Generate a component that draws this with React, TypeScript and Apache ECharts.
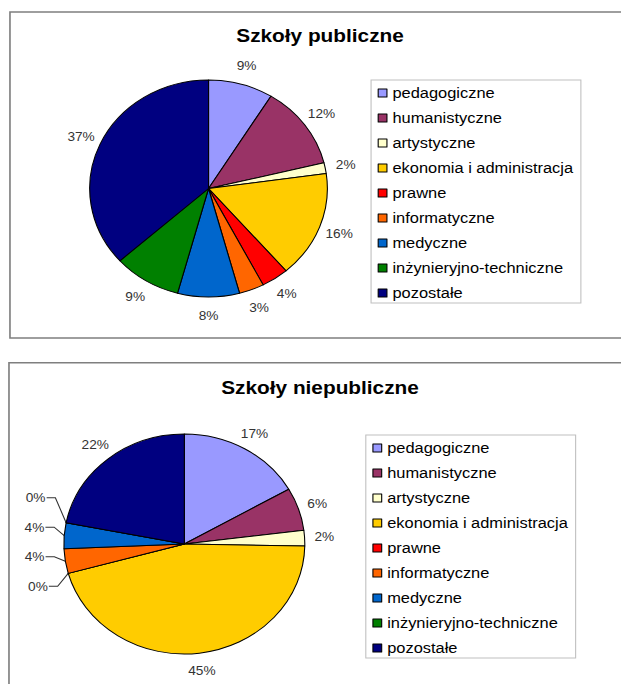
import React, { useEffect, useRef } from "react";
import * as echarts from "echarts";

// ---- data ----
const categories = [
  "pedagogiczne",
  "humanistyczne",
  "artystyczne",
  "ekonomia i administracja",
  "prawne",
  "informatyczne",
  "medyczne",
  "inżynieryjno-techniczne",
  "pozostałe",
];
const sliceColors = [
  "#9999FF",
  "#993366",
  "#FFFFCC",
  "#FFCC00",
  "#FF0000",
  "#FF6600",
  "#0066CC",
  "#008000",
  "#000080",
];
// shares in percent (labels show rounded values)
const publicShares = [8.8, 12.4, 1.6, 15.9, 3.7, 3.4, 8.4, 9.2, 36.6];
const nonPublicShares = [16.7, 6.3, 2.3, 45.4, 0, 3.6, 3.8, 0, 21.9];
const chartTitles = ["Szkoły publiczne", "Szkoły niepubliczne"];
// labels of the second chart that are pulled out with leader lines
const pulledOutLabels = ["prawne", "informatyczne", "medyczne", "inżynieryjno-techniczne"];

// ---- layout ----
const FONT = '"Liberation Sans", Arial, Helvetica, sans-serif';
const OUT_W = 621;
const OUT_H = 684;
const W = 567; // drawing width before the horizontal stretch of the reference
const SX = OUT_W / W;

const pctLabel = (p: any) => Math.round(p.value) + "%";

const sliceItems = (vals: number[]) =>
  categories.map((name, i) => ({ name, value: vals[i], itemStyle: { color: sliceColors[i] } }));

const ringItems = (vals: number[], hidden: string[]) =>
  categories.map((name, i) => ({ name, value: vals[i], label: { show: !hidden.includes(name) } }));

const labelText = { color: "#333", fontSize: 12.5, fontFamily: FONT };

function legendAt(left: number, top: number) {
  return {
    orient: "vertical",
    left,
    top,
    icon: "rect",
    itemWidth: 8,
    itemHeight: 8,
    itemGap: 10,
    padding: [5.5, 7, 2.5, 6],
    backgroundColor: "#fff",
    borderColor: "#c0c0c0",
    borderWidth: 1,
    selectedMode: false,
    data: categories,
    itemStyle: { borderColor: "#000", borderWidth: 1 },
    textStyle: { fontSize: 15, color: "#000", fontFamily: FONT },
  };
}

function labelRing(vals: number[], center: number[], r0: number, r1: number, hidden: string[]) {
  return {
    type: "pie",
    center,
    radius: [r0, r1],
    startAngle: 90,
    clockwise: true,
    silent: true,
    avoidLabelOverlap: false,
    emphasis: { disabled: true },
    itemStyle: { color: "rgba(0,0,0,0)", borderWidth: 0 },
    label: { show: true, position: "inside", formatter: pctLabel, ...labelText },
    labelLine: { show: false },
    data: ringItems(vals, hidden),
  };
}

export default function App() {
  const ref = useRef<HTMLDivElement>(null);

  useEffect(() => {
    if (!ref.current) return;
    const chart = echarts.init(ref.current, undefined, { renderer: "svg" });

    const c1 = [190.4, 188.5];
    const r1 = 108.5;
    const c2 = [168.3, 544];
    const r2 = 110;

    const boxStyle = { fill: "none", stroke: "#7f7f7f", lineWidth: 1.5 };
    const titleStyle = (text: string) => ({
      text,
      font: `bold 19px ${FONT}`,
      fill: "#000",
      align: "center",
      verticalAlign: "middle",
      textAlign: "center",
      textVerticalAlign: "middle",
    });

    chart.setOption({
      animation: false,
      backgroundColor: "#fff",
      textStyle: { fontFamily: FONT },
      graphic: [
        { type: "rect", silent: true, shape: { x: 9.1, y: 12, width: 800, height: 326 }, style: boxStyle },
        { type: "rect", silent: true, shape: { x: 8.2, y: 362.7, width: 800, height: 400 }, style: boxStyle },
        { type: "text", silent: true, x: 292.2, y: 35.5, style: titleStyle(chartTitles[0]) },
        { type: "text", silent: true, x: 292.2, y: 387, style: titleStyle(chartTitles[1]) },
      ],
      legend: [legendAt(338.8, 80), legendAt(334, 435)],
      series: [
        {
          type: "pie",
          name: chartTitles[0],
          center: c1,
          radius: r1,
          startAngle: 90,
          clockwise: true,
          silent: true,
          emphasis: { disabled: true },
          itemStyle: { borderColor: "#000", borderWidth: 1 },
          label: { show: false },
          labelLine: { show: false },
          data: sliceItems(publicShares),
        },
        {
          type: "pie",
          name: chartTitles[1],
          left: 0,
          top: 0,
          height: 601,
          center: c2,
          radius: r2,
          startAngle: 90,
          clockwise: true,
          silent: true,
          avoidLabelOverlap: true,
          emphasis: { disabled: true },
          itemStyle: { borderColor: "#000", borderWidth: 1 },
          label: {
            show: false,
            position: "outside",
            formatter: pctLabel,
            lineHeight: 27.5,
            distanceToLabelLine: 1,
            ...labelText,
          },
          labelLine: { show: false, length: 10, length2: 8, lineStyle: { color: "#333", width: 1 } },
          data: sliceItems(nonPublicShares).map((d) =>
            pulledOutLabels.includes(d.name)
              ? { ...d, label: { show: true }, labelLine: { show: true } }
              : d
          ),
        },
        labelRing(publicShares, c1, r1 + 4, r1 + 28, []),
        labelRing(nonPublicShares, c2, r2 + 3, r2 + 27, pulledOutLabels),
      ],
    });

    return () => chart.dispose();
  }, []);

  return (
    <div
      ref={ref}
      style={{
        position: "absolute",
        left: 0,
        top: 0,
        width: W,
        height: OUT_H,
        transform: `scaleX(${SX})`,
        transformOrigin: "0 0",
        background: "#fff",
      }}
    />
  );
}
